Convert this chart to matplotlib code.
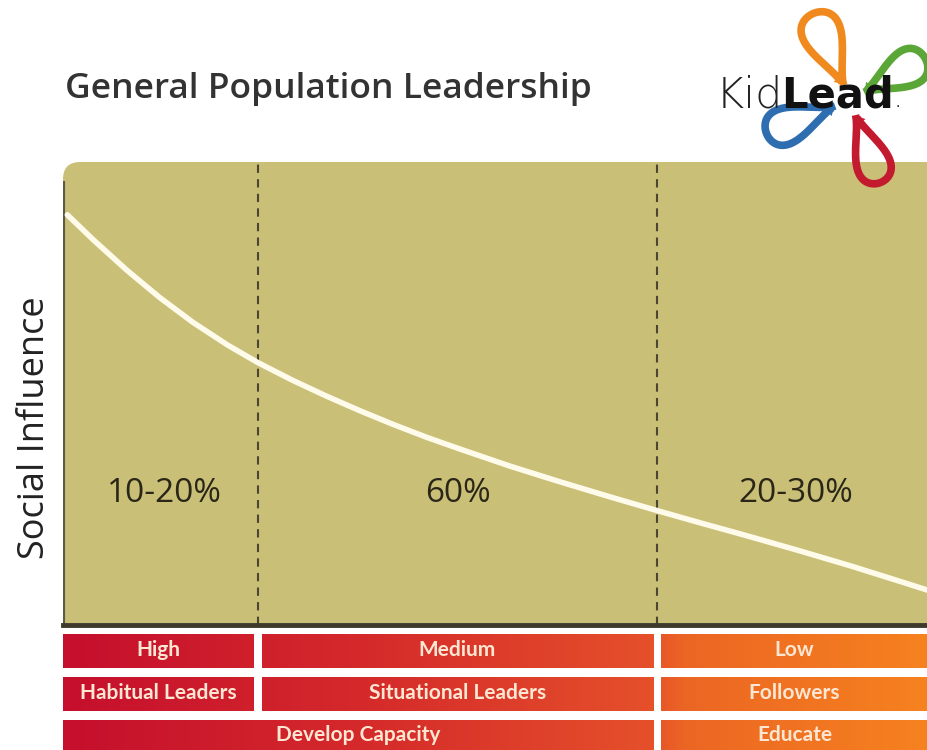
import numpy as np
import matplotlib
matplotlib.use("Agg")
import matplotlib.pyplot as plt
from matplotlib.patches import FancyBboxPatch
from matplotlib.colors import LinearSegmentedColormap
from matplotlib.transforms import IdentityTransform

# curve: share of population (%) vs social influence (0-100)
curve_x = [0.5, 3.5, 7.4, 11.2, 15.0, 19.0, 22.5, 26.6, 30.5, 34.3, 38.2, 42.1,
           45.9, 51.7, 57.5, 63.2, 68.7, 73.6, 79.2, 85.2, 91.0, 96.8, 100.0]
curve_y = [88.6, 83.2, 76.6, 70.7, 65.4, 60.5, 56.7, 52.8, 49.4, 46.3, 43.3, 40.5,
           38.0, 34.3, 30.9, 27.7, 24.7, 22.1, 19.2, 16.0, 12.8, 9.4, 7.5]

group_edges = [0, 22.5, 68.7, 100]
group_labels = ["10-20%", "60%", "20-30%"]

row_influence = ["High", "Medium", "Low"]
row_leaders = ["Habitual Leaders", "Situational Leaders", "Followers"]
row_action = ["Develop Capacity", "Educate"]
row_action_edges = [0, 68.7, 100]

W, H = 928, 750
FONT = ["Open Sans", "DejaVu Sans"]
TAB_FONT = ["Lato", "DejaVu Sans"]

fig = plt.figure(figsize=(W / 100, H / 100), dpi=100)
fig.patch.set_facecolor("white")

# main chart
ax = fig.add_axes([63 / W, 1 - 625 / H, 1 - 63 / W, (625 - 162) / H])
ax.set_xlim(0, 100)
ax.set_ylim(0, 100)
ax.axis("off")
bg = FancyBboxPatch((0, -10), 110, 110, boxstyle="round,pad=0,rounding_size=2",
                    mutation_aspect=865 / 463, transform=ax.transData,
                    facecolor="#c9bf77", edgecolor="none", zorder=0)
ax.add_patch(bg)
ax.plot([0, 0], [0, 96], color="#5e5a45", lw=3, solid_capstyle="butt", zorder=3)
ax.plot([0, 100], [0, 0], color="#3d3a2c", lw=3.5, zorder=3, clip_on=False)
for xe in group_edges[1:-1]:
    ax.axvline(xe, color="#4a4632", lw=1.5, ls=(0, (4, 3)), zorder=2)
ax.plot(curve_x, curve_y, color="#fffbea", lw=4, zorder=4,
        solid_capstyle="round", solid_joinstyle="round")
label_shift = [0.5, 0, 0.4]
for i, lab in enumerate(group_labels):
    xc = (group_edges[i] + group_edges[i + 1]) / 2 + label_shift[i]
    ax.text(xc, 28.5, lab, ha="center", va="center", fontsize=24,
            color="#2a2618", family=FONT)

# title and y label
fig.text(65 / W, 1 - 89 / H, "General Population Leadership", ha="left", va="center",
         fontsize=25.5, fontweight="semibold", color="#333333", family=FONT)
fig.text(35 / W, 1 - 428 / H, "Social Influence", ha="center", va="center",
         rotation=90, fontsize=26, color="#222222", family=FONT)

# gradient table
cmap = LinearSegmentedColormap.from_list(
    "redorange", [(0, "#c50f2d"), (0.35, "#d52a2b"), (0.68, "#e5502a"),
                  (0.72, "#ec6624"), (1, "#f6821f")])
tab = fig.add_axes([63 / W, 0, 1 - 63 / W, (750 - 634) / H])
tab.set_xlim(0, 100)
tab.set_ylim(0, 116)
tab.axis("off")

rows = [
    (row_influence, group_edges, 82, 116),
    (row_leaders, group_edges, 39, 73),
    (row_action, row_action_edges, -2, 30),
]
gap = 0.45
for labels, edges, y0, y1 in rows:
    for i, lab in enumerate(labels):
        x0 = edges[i] + (gap if i > 0 else 0)
        x1 = edges[i + 1] - (gap if i < len(labels) - 1 else 0)
        grad = np.linspace(x0 / 100, x1 / 100, 200).reshape(1, -1)
        tab.imshow(grad, cmap=cmap, vmin=0, vmax=1, extent=[x0, x1, y0, y1],
                   aspect="auto", interpolation="bilinear")
        tab.text((x0 + x1) / 2, (y0 + y1) / 2 + 1, lab, ha="center", va="center",
                 fontsize=15, color="#fde6d2", fontweight="bold", family=TAB_FONT)

# logo (pixel coords)
lg = fig.add_axes([0, 0, 1, 1], zorder=10)
lg.set_xlim(0, W)
lg.set_ylim(H, 0)
lg.axis("off")
cx, cy = 850, 100
# angle, length, half width, colour
petals = [(113, 78, 30, "#f08a1f"), (29, 70, 28, "#5aa636"),
          (202, 74, 28, "#2d6db0"), (290, 72, 26, "#c41a30")]
r0 = 16
for ang, length, wid, col in petals:
    s = np.linspace(0.45, 2 * np.pi - 0.05, 200)
    u = r0 + length * (1 - np.cos(s)) / 2
    v = wid * np.sin(s) * (1 - np.cos(s)) / 2
    a = np.deg2rad(ang)
    px = cx + u * np.cos(a) - v * np.sin(a)
    py = cy - (u * np.sin(a) + v * np.cos(a))
    lg.plot(px, py, color=col, lw=5.5, solid_capstyle="butt")
    lg.annotate("", xy=(px[0] - (px[8] - px[0]) * 0.6, py[0] - (py[8] - py[0]) * 0.6),
                xytext=(px[8], py[8]),
                arrowprops=dict(arrowstyle="-|>,head_width=0.45,head_length=0.6",
                                color=col, lw=0, shrinkA=0, shrinkB=0))

fig.canvas.draw()
renderer = fig.canvas.get_renderer()
kid = lg.text(716, 107, "Kid", fontsize=31, color="#222222", family="DejaVu Sans",
              fontweight="light", va="baseline", ha="left")
bb = kid.get_window_extent(renderer)
lead = lg.text(0, 0, "Lead", fontsize=30, color="#111111",
               family="DejaVu Sans", fontweight="bold", va="baseline", ha="left")
lead.set_transform(IdentityTransform())
lead.set_position((bb.x1 - 2, H - 107))
bb2 = lead.get_window_extent(renderer)
dot = lg.text(0, 0, ".", fontsize=10, color="#111111", va="baseline", ha="left",
              family="DejaVu Sans")
dot.set_transform(IdentityTransform())
dot.set_position((bb2.x1 + 1, H - 107))

fig.savefig("out.png", dpi=100)
